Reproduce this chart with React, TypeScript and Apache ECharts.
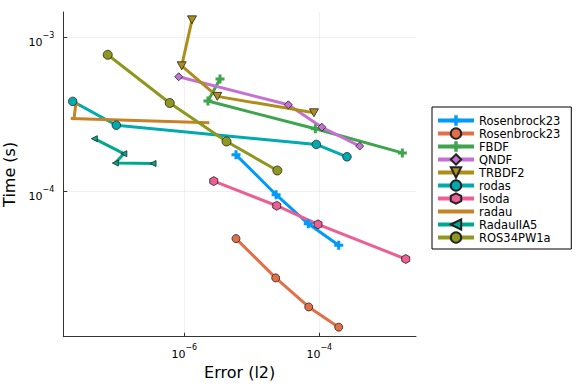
import React, { useEffect, useRef } from "react";
import * as echarts from "echarts";

const seriesNames = ["Rosenbrock23", "Rosenbrock23 ", "FBDF", "QNDF", "TRBDF2", "rodas", "lsoda", "radau", "RadauIIA5", "ROS34PW1a"];
const colors = ["#009AFA", "#E36F47", "#3EA44E", "#C371D2", "#AC8E18", "#00AAAE", "#ED5E93", "#C68225", "#00A98D", "#8E971E"];

const rosenbrock23CrossErr = [5.83e-6, 2.29e-5, 6.87e-5, 1.94e-4];
const rosenbrock23CrossTime = [1.72e-4, 9.46e-5, 6.12e-5, 4.44e-5];
const rosenbrock23CircleErr = [5.83e-6, 2.26e-5, 6.97e-5, 1.94e-4];
const rosenbrock23CircleTime = [4.9e-5, 2.72e-5, 1.76e-5, 1.3e-5];
const fbdfErr = [3.38e-6, 2.24e-6, 8.73e-5, 1.7e-3];
const fbdfTime = [5.36e-4, 3.85e-4, 2.54e-4, 1.77e-4];
const qndfErr = [8.26e-7, 3.48e-5, 1.09e-4, 3.97e-4];
const qndfTime = [5.54e-4, 3.64e-4, 2.6e-4, 1.96e-4];
const trbdf2Err = [1.3e-6, 9.15e-7, 3.08e-6, 8.34e-5];
const trbdf2Time = [1.3e-3, 6.53e-4, 4.13e-4, 3.23e-4];
const rodasErr = [2.22e-8, 9.83e-8, 9.03e-5, 2.57e-4];
const rodasTime = [3.83e-4, 2.68e-4, 2.01e-4, 1.67e-4];
const lsodaErr = [2.73e-6, 2.34e-5, 9.57e-5, 1.91e-3];
const lsodaTime = [1.16e-4, 8.02e-5, 6.07e-5, 3.61e-5];
const radauErr = [2.75e-8, 2.46e-8, 2.32e-8, 2.08e-8, 2.35e-6];
const radauTime = [3.66e-4, 3.65e-4, 2.96e-4, 2.96e-4, 2.78e-4];
const radauIIA5Err = [4.64e-8, 1.27e-7, 9.5e-8, 3.44e-7];
const radauIIA5Time = [2.19e-4, 1.75e-4, 1.52e-4, 1.51e-4];
const ros34Err = [7.33e-8, 6.08e-7, 4.22e-6, 2.39e-5];
const ros34Time = [7.7e-4, 3.74e-4, 2.1e-4, 1.36e-4];

const xTicks = [1e-6, 1e-4];
const yTicks = [1e-4, 1e-3];
const xRange = [1.61e-8, 2.71e-3];
const yRange = [1.127e-5, 1.462e-3];

const errs = [rosenbrock23CrossErr, rosenbrock23CircleErr, fbdfErr, qndfErr, trbdf2Err, rodasErr, lsodaErr, radauErr, radauIIA5Err, ros34Err];
const times = [rosenbrock23CrossTime, rosenbrock23CircleTime, fbdfTime, qndfTime, trbdf2Time, rodasTime, lsodaTime, radauTime, radauIIA5Time, ros34Time];

const CROSS = "path://M3,0 H6 V3 H9 V6 H6 V9 H3 V6 H0 V3 H3 Z";
const DTRI = "path://M0,0 L10,0 L5,8.66 Z";
const LTRI = "path://M0,5 L8.66,0 L8.66,10 Z";
const HEX = "path://M0,-1 L0.866,-0.5 L0.866,0.5 L0,1 L-0.866,0.5 L-0.866,-0.5 Z";

const markers: any[] = [
  { symbol: CROSS, size: 9, outline: false },
  { symbol: "circle", size: 8, outline: true },
  { symbol: CROSS, size: 9, outline: false },
  { symbol: "diamond", size: 8, outline: true },
  { symbol: DTRI, size: [9, 8], outline: true },
  { symbol: "circle", size: 8.5, outline: true },
  { symbol: HEX, size: [8, 9], outline: true },
  { symbol: "none", size: 0, outline: false },
  { symbol: LTRI, size: [6, 6], outline: true },
  { symbol: "circle", size: 9, outline: true },
];

const FONT = "DejaVu Sans";

function supLabel(v: number) {
  const e = Math.round(Math.log10(v));
  return `{b|10}{s|${e < 0 ? "\u2212" : ""}${Math.abs(e)}}`;
}

const rich = {
  b: { fontSize: 11, lineHeight: 16, verticalAlign: "bottom", fontFamily: FONT, color: "#000" },
  s: { fontSize: 8, lineHeight: 8, verticalAlign: "top", fontFamily: FONT, color: "#000" },
};

export default function App() {
  const ref = useRef<HTMLDivElement>(null);
  useEffect(() => {
    if (!ref.current) return;
    const chart = echarts.init(ref.current, undefined, { renderer: "svg" });
    const series = seriesNames.map((name, i) => {
      const m = markers[i];
      return {
        name,
        type: "line",
        data: errs[i].map((x, j) => [x, times[i][j]]),
        symbol: m.symbol,
        symbolSize: m.size,
        showSymbol: m.symbol !== "none",
        lineStyle: { color: colors[i], width: 3 },
        itemStyle: {
          color: colors[i],
          borderColor: m.outline ? "#222" : colors[i],
          borderWidth: m.outline ? 0.8 : 0,
          opacity: m.symbol === "none" ? 0 : 1,
        },
        emphasis: { disabled: true },
        z: 2,
      };
    });
    chart.setOption({
      animation: false,
      backgroundColor: "#fff",
      grid: { left: 63.3, right: 160, top: 12, bottom: 47.3, containLabel: false, outerBoundsMode: "none" },
      xAxis: {
        type: "log",
        min: xRange[0],
        max: xRange[1],
        name: "Error (l2)",
        nameLocation: "middle",
        nameGap: 27,
        nameTextStyle: { fontSize: 16, fontFamily: FONT, color: "#000" },
        axisLine: { show: true, lineStyle: { color: "#333", width: 1 } },
        axisTick: { show: true, inside: true, length: 4, customValues: xTicks, lineStyle: { color: "#333" } },
        minorTick: { show: false },
        axisLabel: { customValues: xTicks, margin: 7, formatter: supLabel, rich },
        splitLine: { show: true, lineStyle: { color: "rgba(0,0,0,0.1)", width: 0.6 } },
      },
      yAxis: {
        type: "log",
        min: yRange[0],
        max: yRange[1],
        name: "Time (s)",
        nameLocation: "middle",
        nameGap: 43,
        nameTextStyle: { fontSize: 16, fontFamily: FONT, color: "#000" },
        axisLine: { show: true, lineStyle: { color: "#333", width: 1 } },
        axisTick: { show: true, inside: true, length: 4, customValues: yTicks, lineStyle: { color: "#333" } },
        minorTick: { show: false },
        axisLabel: { customValues: yTicks, margin: 9, formatter: supLabel, rich, padding: [5, 0, 0, 0] },
        splitLine: { show: true, lineStyle: { color: "rgba(0,0,0,0.1)", width: 0.6 } },
      },
      legend: {
        orient: "vertical",
        left: 432,
        top: 107,
        itemWidth: 36,
        itemHeight: 13,
        itemGap: 0,
        padding: [7, 11, 5, 4],
        borderColor: "#000",
        borderWidth: 1,
        backgroundColor: "#fff",
        selectedMode: false,
        lineStyle: { width: 4 },
        formatter: (n: string) => n.trim(),
        textStyle: { fontSize: 11.5, fontFamily: FONT, color: "#000", lineHeight: 13 },
        data: seriesNames.map((n) => ({ name: n })),
      },
      series,
    });
    return () => chart.dispose();
  }, []);
  return <div ref={ref} style={{ position: "fixed", left: 0, top: 0, width: 576, height: 384 }} />;
}
